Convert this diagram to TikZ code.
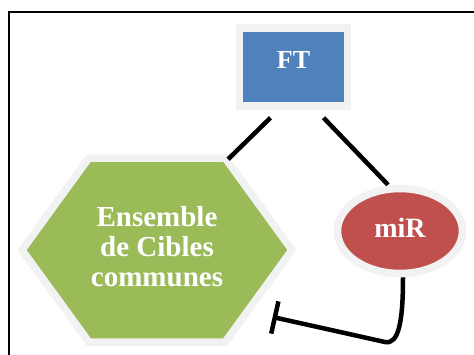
\documentclass[tikz,border=0pt]{standalone}
\usepackage{fontspec}
\setmainfont{Liberation Serif}
\usepackage{tikz}
\usetikzlibrary{shapes.geometric,shapes.symbols,arrows.meta,positioning}
\definecolor{ftblue}{HTML}{4F81BD}
\definecolor{cibgreen}{HTML}{9BBB59}
\definecolor{mirred}{HTML}{C0504D}
\definecolor{halo}{HTML}{F2F2F2}
\tikzset
{
    boxnode/.style  = {rectangle, draw=halo, line width=7.5pt, fill=ftblue, text=white, font=\bfseries\fontsize{26}{30}\selectfont, minimum width=108pt, minimum height=78pt, inner sep=0pt},
    hexnode/.style  = {signal, signal to=east and west, signal pointer angle=108, draw=halo, line width=7.5pt, fill=cibgreen, text=white, align=center, font=\bfseries\fontsize{29}{30}\selectfont, minimum width=270pt, minimum height=184pt, inner sep=0pt},
    ovalnode/.style = {ellipse, draw=halo, line width=7.5pt, fill=mirred, text=white, font=\bfseries\fontsize{28}{30}\selectfont, minimum width=125pt, minimum height=85pt, inner sep=0pt},
    link/.style     = {line width=4.5pt},
    inhib/.style    = {line width=4.5pt, -{Bar[width=33pt,line width=4.5pt]}}
}

\begin{document}
\begin{tikzpicture}[x=1pt, y=-1pt]
    \useasboundingbox (0,0) rectangle (474,354);
    % frame of the figure
    \draw[line width=2pt] (9,370) -- (9,12) -- (490,12);

    \node (ft)	[boxnode]   at (293.5, 67)   {\raisebox{15pt}{FT}};
    \node (cib)	[hexnode]   at (157, 250)    {\raisebox{5pt}{\begin{tabular}{@{}c@{}}Ensemble\\de Cibles\\communes\end{tabular}}};
    \node (mir)	[ovalnode]  at (400, 231)    {\raisebox{6pt}{miR}};

    \coordinate (bend) at (385, 342);

    \draw[link] ([xshift=-23pt, yshift=-8pt]ft.south) -- ([xshift=1pt, yshift=-5pt]cib.north east);
    \draw[link] ([xshift=30pt, yshift=-8pt]ft.south) -- ([xshift=-12pt]mir.north);
    % inhibition of the common targets
    \draw[inhib] ([xshift=3pt]mir.south) .. controls (403,320) and (399,345) .. (bend) -- ([xshift=-24pt, yshift=-67pt]cib.east);
\end{tikzpicture}
\end{document}
